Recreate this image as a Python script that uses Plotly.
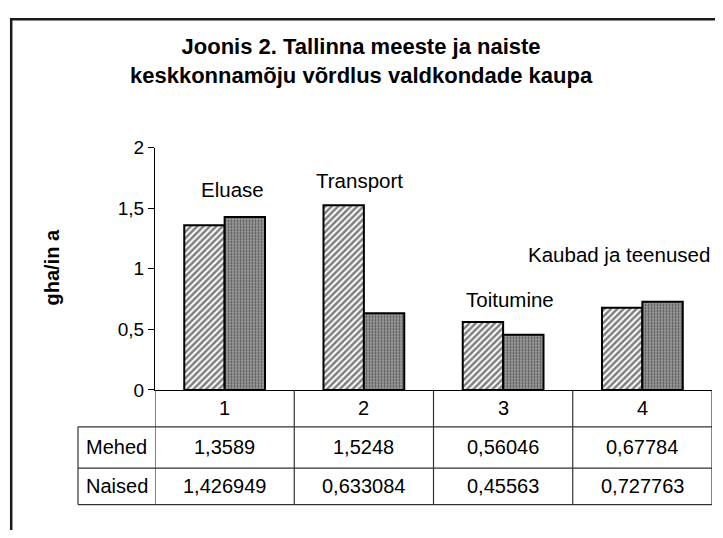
import plotly.graph_objects as go

# ---- data ----
categories = ["1", "2", "3", "4"]
series_names = ["Mehed", "Naised"]
mehed = [1.3589, 1.5248, 0.56046, 0.67784]
naised = [1.426949, 0.633084, 0.45563, 0.727763]
category_labels = ["Eluase", "Transport", "Toitumine", "Kaubad ja teenused"]
label_values = [1.65, 1.73, 0.75, 1.12]
y_tick_vals = [0, 0.5, 1, 1.5, 2]
y_tick_text = ["0", "0,5", "1", "1,5", "2"]
title_lines = ["Joonis 2. Tallinna meeste ja naiste",
               "keskkonnamõju võrdlus valdkondade kaupa"]
y_title = "gha/in a"

# ---- geometry (page pixels; the page has an 8px body margin) ----
OFF = 8
W, H = 723 - 2 * OFF, 538 - 2 * OFF
PX_L, PX_R = 155, 712
PY_ZERO, PY_TOP = 395.5, 143
ROW_Y = [PY_ZERO, 434, 477, 515]
LABEL_COL_L = 78
FONT = "Liberation Sans, Arial, sans-serif"
LABEL_XSHIFT = [8, -4, 7, -23]


def px(x):
    return (x - OFF) / W


def py(y):
    return 1 - (y - OFF) / H


def fmt(v):
    return repr(v).replace(".", ",")


fig = go.Figure()
fig.add_trace(go.Bar(
    x=categories, y=mehed, name=series_names[0],
    marker=dict(color="white",
                line=dict(color="black", width=2),
                pattern=dict(shape="/", fgcolor="black", bgcolor="white",
                             size=4.5, solidity=0.55)),
))
fig.add_trace(go.Bar(
    x=categories, y=naised, name=series_names[1],
    marker=dict(color="#8c8c8c",
                line=dict(color="black", width=2),
                pattern=dict(shape=".", fgcolor="black", bgcolor="#9a9a9a",
                             size=3, solidity=0.3)),
))

shapes = []
annotations = []

# outer frame
shapes.append(dict(type="line", xref="paper", yref="paper",
                   x0=px(11), x1=px(760), y0=py(9.2), y1=py(9.2),
                   line=dict(color="#1a1a1a", width=2.5)))
shapes.append(dict(type="line", xref="paper", yref="paper",
                   x0=px(11.2), x1=px(11.2), y0=py(8), y1=py(560),
                   line=dict(color="#1a1a1a", width=2.5)))

# table lines
tcol = "#333333"
for i in range(len(categories) + 1):
    shapes.append(dict(type="line", xref="x", yref="paper",
                       x0=i - 0.5, x1=i - 0.5, y0=py(ROW_Y[0]), y1=py(ROW_Y[-1]),
                       line=dict(color=tcol, width=1.2)))
for yy in ROW_Y[1:]:
    shapes.append(dict(type="line", xref="paper", yref="paper",
                       x0=px(LABEL_COL_L), x1=px(PX_R), y0=py(yy), y1=py(yy),
                       line=dict(color=tcol, width=1.2)))
shapes.append(dict(type="line", xref="paper", yref="paper",
                   x0=px(LABEL_COL_L), x1=px(LABEL_COL_L), y0=py(ROW_Y[1]), y1=py(ROW_Y[-1]),
                   line=dict(color=tcol, width=1.2)))

tfont = dict(family=FONT, size=20, color="black")
# header row
for i, c in enumerate(categories):
    annotations.append(dict(x=i, xref="x", y=py((ROW_Y[0] + ROW_Y[1]) / 2), yref="paper",
                            text=c, showarrow=False, font=tfont,
                            xanchor="center", yanchor="middle"))
# data rows
for r, (name, vals) in enumerate(zip(series_names, [mehed, naised])):
    ymid = py((ROW_Y[r + 1] + ROW_Y[r + 2]) / 2)
    annotations.append(dict(x=px((LABEL_COL_L + PX_L) / 2), xref="paper", y=ymid, yref="paper",
                            text=name, showarrow=False, font=tfont,
                            xanchor="center", yanchor="middle"))
    for i, v in enumerate(vals):
        annotations.append(dict(x=i, xref="x", y=ymid, yref="paper",
                                text=fmt(v), showarrow=False, font=tfont,
                                xanchor="center", yanchor="middle"))

# category labels above bars
for i, (lab, lv) in enumerate(zip(category_labels, label_values)):
    annotations.append(dict(x=i, xref="x", y=lv, yref="y", text=lab,
                            showarrow=False, xshift=LABEL_XSHIFT[i],
                            font=dict(family=FONT, size=20.5, color="black"),
                            xanchor="center", yanchor="middle"))

# title
annotations.append(dict(x=px(361.5), xref="paper", y=py(53), yref="paper",
                        text="<b>" + "<br>".join(title_lines) + "</b>",
                        showarrow=False, align="center",
                        font=dict(family=FONT, size=22, color="black"),
                        xanchor="center", yanchor="middle"))
# y-axis title
annotations.append(dict(x=px(52), xref="paper", y=py(268), yref="paper",
                        text="<b>" + y_title + "</b>", textangle=-90,
                        showarrow=False, font=dict(family=FONT, size=20, color="black"),
                        xanchor="center", yanchor="middle"))

fig.update_layout(
    width=W, height=H,
    margin=dict(l=0, r=0, t=0, b=0),
    paper_bgcolor="white", plot_bgcolor="white",
    showlegend=False,
    barmode="group", bargap=0.42, bargroupgap=0,
    shapes=shapes, annotations=annotations,
    xaxis=dict(domain=[px(PX_L), px(PX_R)], type="category",
               range=[-0.5, len(categories) - 0.5],
               showticklabels=False, ticks="", showgrid=False, zeroline=False,
               showline=True, linecolor="black", linewidth=1.2),
    yaxis=dict(domain=[py(PY_ZERO), py(PY_TOP)], range=[0, 2],
               tickvals=y_tick_vals, ticktext=y_tick_text,
               ticks="outside", ticklen=6, tickcolor="black", tickwidth=1,
               tickfont=dict(family=FONT, size=19, color="black"),
               showgrid=False, zeroline=False,
               showline=True, linecolor="black", linewidth=1.2),
)

fig.write_html("out.html")
